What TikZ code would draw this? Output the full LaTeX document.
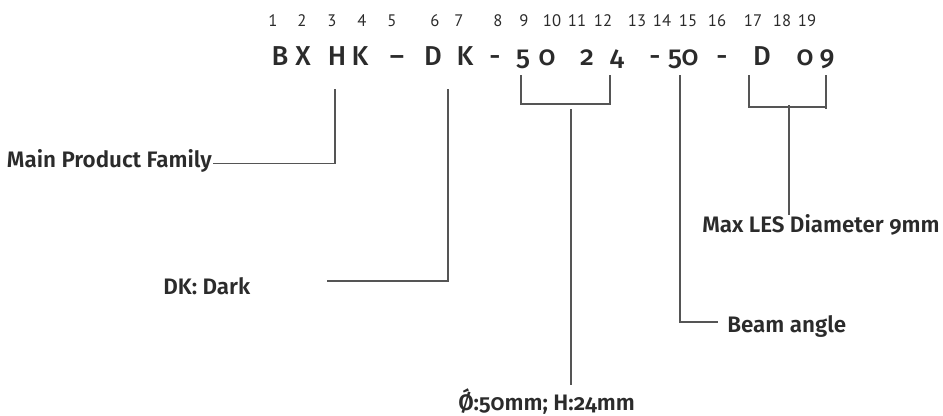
\documentclass[tikz,border=0pt]{standalone}
\usepackage{fontspec}
\setmainfont{Fira Sans}
\newfontfamily\lblfont{Fira Sans SemiBold}[Numbers=OldStyle]
\newfontfamily\codefont{Fira Sans Medium}[Numbers=OldStyle]
\newfontfamily\numfont{PT Sans}
\definecolor{txt}{HTML}{2B2B2B}
\definecolor{linegray}{HTML}{555555}
\begin{document}
\begin{tikzpicture}[x=0.75pt,y=-0.75pt,
  conn/.style={draw=linegray,line width=0.9pt},
  lbl/.style={font=\lblfont\fontsize{16.8}{20}\selectfont,text=txt,inner sep=0pt},
  code/.style={font=\codefont\fontsize{20.5}{24}\selectfont,text=txt,inner sep=0pt,anchor=base},
  idx/.style={font=\numfont\fontsize{12.5}{15}\selectfont,text=txt,inner sep=0pt,anchor=base}]
\useasboundingbox (0,0) rectangle (943,415);
% position indices
\foreach \n/\x in {1/273,2/302,3/332,4/362,5/392,6/435,7/459,8/498,9/524,10/552,11/577,12/603,13/637,14/662,15/688,16/717,17/753,18/782,19/807}
  \node[idx] (i\n) at (\x,26) {\n};
% code characters
\foreach \c/\t/\x in {c1/B/280,c2/X/303,c3/H/337,c4/K/360,c5/–/397,c6/D/433,c7/K/465,c8/-/495,c9/5/523,c10/0/547,c11/2/587,c12/4/617,c13/-/655,c14/5/675,c15/0/690,c16/-/722,c17/D/762,c18/0/805,c19/9/827}
  \node[code] (\c) at (\x,65) {\t};
% labels
\node[lbl,anchor=base east] (mpf) at (212,167) {Main Product Family};
\node[lbl,anchor=base west] (dk) at (163,294) {DK: Dark};
\node[lbl,anchor=base west] (dim) at (458,410) {Ǿ:50mm; H:24mm};
\node[lbl,anchor=base west] (beam) at (727,332) {Beam angle};
\node[lbl,anchor=base west] (les) at (702,232) {Max LES Diameter 9mm};
% connector points
\coordinate (a1) at (213,163.5);
\coordinate (a2) at (335,163.5);
\coordinate (a3) at (335,89);
\coordinate (b1) at (327,281);
\coordinate (b2) at (448,281);
\coordinate (b3) at (448,89);
\coordinate (p1) at (521,75);
\coordinate (p2) at (521,104);
\coordinate (p3) at (610,104);
\coordinate (p4) at (610,75);
\coordinate (ps) at (571,109);
\coordinate (pe) at (571,385);
\coordinate (q1) at (680,75);
\coordinate (q2) at (680,322);
\coordinate (q3) at (718,322);
\coordinate (r1) at (749,75);
\coordinate (r2) at (749,107);
\coordinate (r3) at (826,107);
\coordinate (r4) at (826,75);
\coordinate (r5) at (826,109);
\coordinate (rs) at (789,105);
\coordinate (re) at (789,215);
\draw[conn] (a1) -- (a2) -- (a3);
\draw[conn] (b1) -- (b2) -- (b3);
\draw[conn] (p1) -- (p2) -- (p3) -- (p4);
\draw[conn] (ps) -- (pe);
\draw[conn] (q1) -- (q2) -- (q3);
\draw[conn] (r1) -- (r2) -- (r3);
\draw[conn] (r4) -- (r5);
\draw[conn] (rs) -- (re);
\end{tikzpicture}
\end{document}
